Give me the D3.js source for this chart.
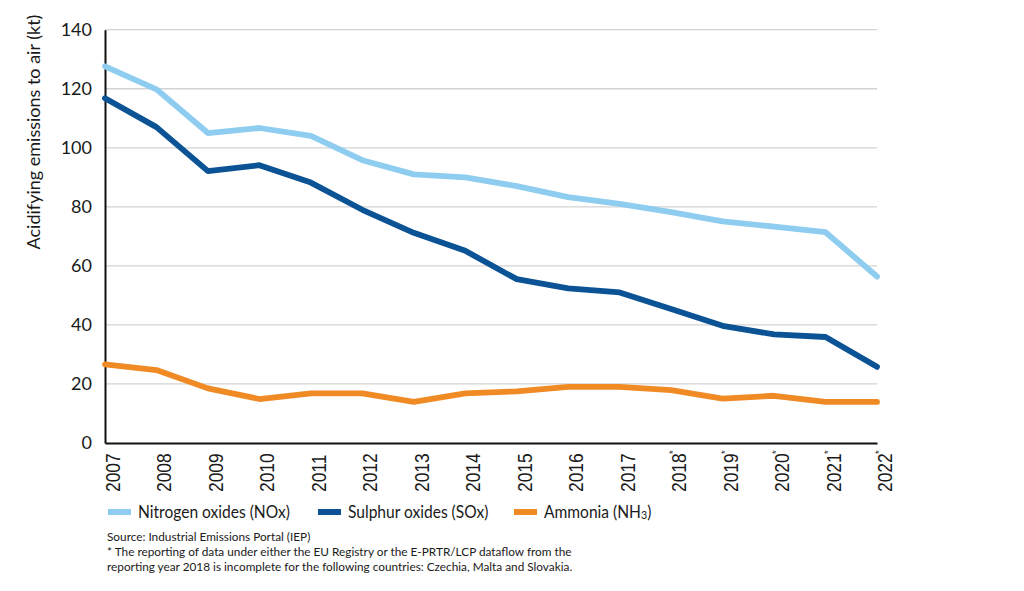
<!DOCTYPE html>
<html>
<head>
<meta charset="utf-8">
<script src="https://cdn.jsdelivr.net/npm/d3@7"></script>
<style>
	body { margin: 0; background: #fff; }
	svg { display: block; font-family: Lato, "Open Sans", sans-serif; }
</style>
</head>
<body>
<svg id="chart"></svg>
<script>
// years, star = incomplete reporting (see footnote)
var years = ["2007", "2008", "2009", "2010", "2011", "2012", "2013", "2014", "2015",
	"2016", "2017", "2018", "2019", "2020", "2021", "2022"];
var starred = ["2018", "2019", "2020", "2021", "2022"];

// kt
var nox = [127.6, 119.8, 105, 106.7, 104, 95.8, 91, 90, 87, 83.3, 81, 78.2, 75.1, 73.3, 71.4, 56.4];
var sox = [116.8, 107, 92.1, 94.1, 88.2, 79, 71.2, 65.1, 55.5, 52.4, 51, 45.4, 39.7, 36.8, 35.9, 25.8];
var nh3 = [26.6, 24.7, 18.5, 14.9, 16.8, 16.8, 13.9, 16.8, 17.5, 19, 19, 17.9, 15, 16, 13.9, 13.9];

var yTicks = [0, 20, 40, 60, 80, 100, 120, 140];

var series = [
	{ name: "Nitrogen oxides (NOx)", values: nox, color: "#8ecdf0" },
	{ name: "Sulphur oxides (SOx)", values: sox, color: "#0b5394" },
	{ name: "Ammonia (NH", sub: "3", values: nh3, color: "#f08a24" }
];

var width = 1024;
var height = 591;

var svg = d3.select("#chart").attr("width", width).attr("height", height);

var x = d3.scalePoint()
	.domain(years)
	.range([105, 877]);

var y = d3.scaleLinear()
	.domain([0, 140])
	.range([443, 29.7]);

// gridlines
svg.append("g")
	.selectAll("line")
	.data(yTicks.filter(function (d) { return d > 0; }))
	.enter()
	.append("line")
	.attr("x1", x.range()[0])
	.attr("x2", x.range()[1])
	.attr("y1", function (d) { return y(d); })
	.attr("y2", function (d) { return y(d); })
	.attr("stroke", "#d3d3d3")
	.attr("stroke-width", 1.3);

// y axis
var yAxis = svg.append("g")
	.attr("transform", "translate(105,0)")
	.call(d3.axisLeft(y).tickValues(yTicks).tickSize(0).tickPadding(13));
yAxis.select(".domain").attr("stroke", "#111").attr("stroke-width", 2);
yAxis.selectAll("text")
	.attr("font-family", "Lato, sans-serif")
	.attr("font-size", 18)
	.attr("fill", "#1a1a1a");

// x axis
var xAxis = svg.append("g")
	.attr("transform", "translate(0," + y(0) + ")")
	.call(d3.axisBottom(x).tickSize(0).tickFormat(""));
xAxis.select(".domain").attr("stroke", "#111").attr("stroke-width", 2);

// year labels are a narrow face in the original, squeeze along the text
var xl = svg.append("g")
	.selectAll("text")
	.data(years)
	.enter()
	.append("text")
	.attr("transform", function (d) { return "translate(" + (x(d) + 15) + ",492) rotate(-90) scale(0.83,1)"; })
	.attr("font-family", "'Liberation Sans', Arial, sans-serif")
	.attr("font-size", 21)
	.attr("fill", "#1a1a1a")
	.text(function (d) { return d; });
xl.filter(function (d) { return starred.indexOf(d) >= 0; })
	.append("tspan")
	.attr("font-size", 11)
	.attr("dx", -1)
	.attr("dy", -9)
	.text("*");

// axis title
svg.append("text")
	.attr("transform", "translate(40,132) rotate(-90)")
	.attr("text-anchor", "middle")
	.attr("font-size", 18)
	.attr("fill", "#1a1a1a")
	.text("Acidifying emissions to air (kt)");

// lines
var line = d3.line()
	.x(function (d, i) { return x(years[i]); })
	.y(function (d) { return y(d); });

svg.append("g")
	.selectAll("path")
	.data(series)
	.enter()
	.append("path")
	.attr("d", function (d) { return line(d.values); })
	.attr("fill", "none")
	.attr("stroke", function (d) { return d.color; })
	.attr("stroke-width", 5.8)
	.attr("stroke-linejoin", "round")
	.attr("stroke-linecap", "round");

// legend
var legendX = [108, 318, 514];
var leg = svg.append("g")
	.selectAll("g")
	.data(series)
	.enter()
	.append("g")
	.attr("transform", function (d, i) { return "translate(" + legendX[i] + ",512)"; });
leg.append("rect")
	.attr("x", 0)
	.attr("y", -3)
	.attr("width", 23)
	.attr("height", 6)
	.attr("fill", function (d) { return d.color; });
var lt = leg.append("text")
	.attr("transform", "translate(30,6) scale(0.89,1)")
	.attr("font-size", 17.5)
	.attr("fill", "#1a1a1a")
	.text(function (d) { return d.name; });
lt.filter(function (d) { return d.sub; })
	.append("tspan")
	.attr("font-size", 12)
	.attr("dy", 1)
	.text(function (d) { return d.sub; });
lt.filter(function (d) { return d.sub; })
	.append("tspan")
	.attr("dy", -1)
	.text(")");

// notes
var notes = [
	"Source: Industrial Emissions Portal (IEP)",
	"* The reporting of data under either the EU Registry or the E-PRTR/LCP dataflow from the",
	"reporting year 2018 is incomplete for the following countries: Czechia, Malta and Slovakia."
];
svg.append("g")
	.selectAll("text")
	.data(notes)
	.enter()
	.append("text")
	.attr("x", 107)
	.attr("y", function (d, i) { return 541 + i * 15; })
	.attr("font-size", 11.8)
	.attr("fill", "#1a1a1a")
	.text(function (d) { return d; });
</script>
</body>
</html>
